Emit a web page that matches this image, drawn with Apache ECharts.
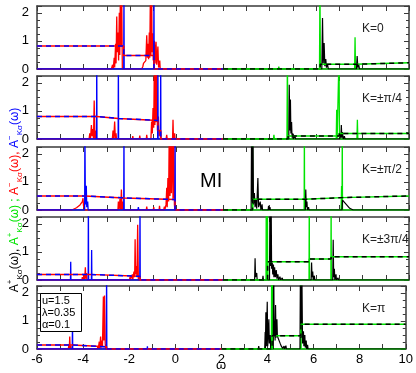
<!DOCTYPE html>
<html><head><meta charset="utf-8">
<script src="https://cdn.jsdelivr.net/npm/echarts@6/dist/echarts.min.js"></script>
<style>html,body{margin:0;padding:0;background:#fff}#c{width:416px;height:373px}</style>
</head><body><div id="c"></div>
<script>
// ---- axis ranges and tick labels ----
const xMin = -6, xMax = 10, yMin = 0, yMax = 2.24;
const xTickLabels = [-6, -4, -2, 0, 2, 4, 6, 8, 10];
const yTickLabels = [0, 1, 2];
const panelLabels = ['K=0', 'K=\u00b1\u03c0/4', 'K=\u00b1\u03c0/2', 'K=\u00b13\u03c0/4', 'K=\u03c0'];
const paramLines = ['u=1.5', '\u03bb=0.35', '\u03b1=0.1'];

// ---- panel 1: K=0 ----
const red1 = [[-6,0],[-2.8,0],[-2.75,0.15],[-2.72,0],[-2.68,0.4],[-2.66,0.05],[-2.62,0.9],[-2.6,0.2],[-2.57,1.87],[-2.55,0.6],[-2.52,1.3],[-2.49,0.3],[-2.46,2.0],[-2.44,0.5],[-2.41,3],[-2.39,0.8],[-2.36,3],[-2.33,0],[-2.1,0],[-2.08,0.06],[-2.06,0],[-1.8,0],[-1.78,0.05],[-1.76,0],[-1.5,0],[-1.45,0.08],[-1.42,0.2],[-1.32,0.3],[-1.28,1.2],[-1.25,0.4],[-1.22,0.9],[-1.2,0.35],[-1.17,1.3],[-1.15,0.4],[-1.12,3],[-1.1,0.5],[-1.07,3],[-1.05,0.6],[-1.02,1.27],[-1.0,0.3],[-0.95,1.0],[-0.92,0.2],[-0.88,0.97],[-0.85,0.15],[-0.8,0.8],[-0.77,0.05],[-0.72,0.3],[-0.7,0],[-0.5,0],[-0.48,0.04],[-0.46,0],[-0.2,0],[-0.18,0.05],[-0.16,0],[2,0]];
const blue1 = [[-6,0],[-2.27,0],[-2.26,3],[-2.25,0],[-0.98,0],[-0.97,3],[-0.96,0],[2,0]];
const stepRB1 = [[-6,0.82],[-2.27,0.82],[-2.27,0.48],[-0.97,0.48],[-0.97,0],[2,0]];
const black1 = [[2,0],[6.25,0],[6.28,1.81],[6.31,0.2],[6.35,0.92],[6.38,0.1],[6.42,0.35],[6.45,0.05],[6.5,0.15],[6.53,0],[6.6,0.06],[6.62,0],[7.74,0],[7.77,0.46],[7.8,0.05],[7.84,0.15],[7.87,0],[10,0]];
const green1 = [[2,0],[4.38,0],[4.4,0.08],[4.42,0],[6.15,0],[6.17,3],[6.19,0],[7.66,0],[7.68,1.13],[7.7,0],[10,0]];
const stepGK1 = [[2,0],[6.18,0],[6.18,0.17],[7.69,0.17],[7.69,0.22],[10,0.22]];

// ---- panel 2: K=±π/4 ----
const red2 = [[-6,0],[-3.76,0],[-3.73,0.2],[-3.7,0],[-3.66,0.5],[-3.63,0.1],[-3.6,0.35],[-3.57,0],[-3.54,1.37],[-3.51,0],[-3.47,0.3],[-3.45,0],[-2.76,0],[-2.73,0.3],[-2.7,0],[-2.66,0.62],[-2.63,0],[-2.6,0.2],[-2.58,0],[-2.4,0],[-2.38,0.06],[-2.36,0],[-1.9,0],[-1.88,0.1],[-1.86,0],[-1.6,0],[-1.58,0.12],[-1.56,0],[-1.3,0],[-1.28,0.15],[-1.26,0],[-1.1,0],[-1.07,0.62],[-1.04,0.2],[-1.01,1.1],[-0.98,0.4],[-0.95,3],[-0.93,0.5],[-0.9,3],[-0.88,0.6],[-0.85,3],[-0.82,0.3],[-0.78,0.8],[-0.75,0.1],[-0.7,0.3],[-0.67,0],[-0.45,0],[-0.42,0.15],[-0.4,0],[-0.17,0],[-0.15,0.68],[-0.13,0],[-0.08,0.2],[-0.06,0],[2,0]];
const blue2 = [[-6,0],[-3.44,0],[-3.43,3],[-3.42,0],[-2.51,0],[-2.5,3],[-2.49,0],[-0.81,0],[-0.8,3],[-0.79,0],[-0.69,0],[-0.68,3],[-0.67,0],[2,0]];
const stepRB2 = [[-6,0.8],[-3.43,0.8],[-3.43,0.73],[-2.5,0.73],[-2.5,0.66],[-0.8,0.66],[-0.8,0.3],[-0.68,0.3],[-0.68,0],[2,0]];
const black2 = [[2,0],[4.83,0],[4.85,1.93],[4.87,0.3],[4.9,1.4],[4.92,0.2],[4.95,0.6],[4.97,0.05],[5.0,0.2],[5.02,0],[5.1,0.1],[5.12,0],[7.02,0],[7.05,0.2],[7.07,0.05],[7.09,0.5],[7.11,0.05],[7.14,0.25],[7.17,0],[7.22,0.1],[7.25,0],[10,0]];
const green2 = [[2,0],[4.17,0],[4.19,0.15],[4.21,0],[4.75,0],[4.77,3],[4.79,0],[6.87,0],[6.89,1.04],[6.91,0],[6.97,0],[6.99,3],[7.01,0],[7.76,0],[7.78,0.68],[7.8,0],[10,0]];
const stepGK2 = [[2,0],[4.8,0],[4.8,0.11],[7.0,0.11],[7.0,0.2],[10,0.2]];

// ---- panel 3: K=±π/2 ----
const red3 = [[-6,0],[-4.5,0],[-4.3,0.08],[-4.15,0.18],[-4.05,0.3],[-4.02,0.42],[-4.0,0.15],[-3.95,0],[-2.52,0],[-2.5,0.3],[-2.47,0],[-2.43,0.4],[-2.4,0],[-2.37,0.73],[-2.34,0],[-2.31,0.3],[-2.29,0],[-1.3,0],[-1.28,0.12],[-1.26,0],[-1.0,0],[-0.98,0.1],[-0.96,0],[-0.75,0],[-0.73,0.15],[-0.71,0],[-0.55,0],[-0.52,0.12],[-0.5,0],[-0.45,0.2],[-0.42,0.79],[-0.4,0.1],[-0.37,1.14],[-0.34,0.3],[-0.31,3],[-0.28,0.5],[-0.25,3],[-0.22,0.6],[-0.18,3],[-0.15,0.4],[-0.12,3],[-0.09,0.2],[-0.07,0],[2,0]];
const blue3 = [[-6,0],[-3.95,0],[-3.94,3],[-3.92,0.2],[-3.88,0.86],[-3.86,0.1],[-3.82,0.3],[-3.8,0],[-2.27,0],[-2.26,3],[-2.25,0],[-1.66,0],[-1.64,0.1],[-1.62,0],[-0.07,0],[-0.06,3],[-0.05,0],[2,0]];
const stepRB3 = [[-6,0.5],[-3.93,0.5],[-3.93,0.43],[-2.26,0.43],[-2.26,0.37],[-0.06,0.37],[-0.06,0],[2,0]];
const black3 = [[2,0],[3.21,0],[3.23,3],[3.25,0.3],[3.29,3],[3.31,0.2],[3.35,0.6],[3.38,0.1],[3.42,0.4],[3.45,0.05],[3.5,1.14],[3.53,0.1],[3.6,0.3],[3.63,0],[3.68,0.2],[3.7,0],[3.94,0],[3.96,0.15],[3.98,0],[4.02,0.1],[4.04,0],[5.54,0],[5.56,0.73],[5.58,0.1],[5.61,0.3],[5.63,0],[5.68,0.1],[5.7,0],[7.12,0],[7.14,0.35],[7.3,0.2],[7.45,0.06],[7.6,0],[10,0]];
const green3 = [[2,0],[3.26,0],[3.27,3],[3.28,0],[4.83,0],[4.85,0.06],[4.87,0],[5.49,0],[5.5,3],[5.51,0],[7.08,0],[7.1,0.85],[7.12,0],[7.13,3],[7.14,0],[10,0]];
const stepGK3 = [[2,0],[3.27,0],[3.27,0.38],[5.5,0.38],[5.5,0.44],[7.13,0.44],[7.13,0.5],[10,0.5]];

// ---- panel 4: K=±3π/4 ----
const red4 = [[-6,0],[-4.07,0],[-4.05,0.1],[-4.03,0],[-3.97,0.2],[-3.95,0],[-3.92,0.45],[-3.9,0.05],[-3.87,0.25],[-3.85,0],[-2.02,0],[-2.0,0.1],[-1.98,0],[-1.9,0.2],[-1.88,0],[-1.83,0.3],[-1.8,0.1],[-1.78,1.45],[-1.76,0.2],[-1.72,0.5],[-1.7,0.1],[-1.67,1.96],[-1.64,0],[2,0]];
const blue4 = [[-6,0],[-4.56,0],[-4.55,0.65],[-4.54,0],[-3.8,0],[-3.79,3],[-3.78,0],[-3.66,0],[-3.65,1.07],[-3.64,0],[-1.58,0],[-1.57,3],[-1.56,0],[-1.01,0],[-1.0,0.07],[-0.99,0],[2,0]];
const stepRB4 = [[-6,0.2],[-3.79,0.2],[-3.79,0.13],[-1.57,0.13],[-1.57,0],[2,0]];
const black4 = [[2,0],[3.36,0],[3.38,0.77],[3.4,0.1],[3.45,0.25],[3.47,0],[3.7,0],[3.72,0.15],[3.74,0],[4.0,0],[4.02,3],[4.04,0.5],[4.07,3],[4.09,0.4],[4.12,0.6],[4.14,0.2],[4.17,0.55],[4.19,0.1],[4.22,0.45],[4.25,0.1],[4.29,0.35],[4.32,0.05],[4.36,0.2],[4.39,0],[4.45,0.12],[4.48,0],[4.55,0.08],[4.57,0],[5.79,0],[5.81,0.62],[5.83,0.1],[5.86,0.3],[5.88,0],[5.93,0.15],[5.95,0],[6.72,0],[6.74,1.43],[6.76,0.1],[6.79,0.4],[6.81,0],[6.86,0.2],[6.88,0],[6.95,0.08],[6.97,0],[10,0]];
const green4 = [[2,0],[3.85,0],[3.86,3],[3.88,0],[3.91,3],[3.92,0],[5.7,0],[5.71,3],[5.72,0],[6.64,0],[6.65,3],[6.66,0],[10,0]];
const stepGK4 = [[2,0],[3.92,0],[3.92,0.65],[5.71,0.65],[5.71,0.75],[6.65,0.75],[6.65,0.83],[10,0.83]];

// ---- panel 5: K=π ----
const red5 = [[-6,0],[-4.64,0],[-4.62,0.15],[-4.6,0],[-4.58,0.44],[-4.56,0],[-4.53,0.1],[-4.51,0],[-3.38,0],[-3.36,0.1],[-3.34,0],[-3.3,0.26],[-3.28,0],[-3.24,0.44],[-3.22,0.05],[-3.18,0.3],[-3.16,0.1],[-3.12,1.87],[-3.1,0.3],[-3.07,1.9],[-3.04,0.2],[-3.02,0],[2,0]];
const blue5 = [[-6,0],[-4.47,0],[-4.46,1.13],[-4.45,0],[-2.99,0],[-2.98,3],[-2.97,0],[-1.22,0],[-1.21,0.1],[-1.2,0],[2,0]];
const stepRB5 = [[-6,0.14],[-4.46,0.14],[-4.46,0.08],[-2.98,0.08],[-2.98,0],[2,0]];
const black5 = [[2,0],[3.6,0],[3.62,0.1],[3.64,0],[3.88,0],[3.9,0.6],[3.91,0],[3.93,1.31],[3.95,0.1],[3.99,1.68],[4.01,0.1],[4.06,1.06],[4.08,0.2],[4.12,0.5],[4.14,0],[4.25,0],[4.27,3],[4.29,0.5],[4.31,1.0],[4.33,0.3],[4.35,1.56],[4.37,0.4],[4.41,1.06],[4.43,0.45],[4.48,0.38],[4.55,0.2],[4.6,0.1],[4.64,0.15],[4.66,0.02],[4.72,0.1],[4.74,0],[4.8,0.12],[4.82,0],[4.9,0.06],[4.92,0],[5.41,0],[5.43,3],[5.46,0.4],[5.49,3],[5.52,0.2],[5.56,0.63],[5.58,0.1],[5.62,0.5],[5.64,0.05],[5.68,0.3],[5.7,0],[5.74,0.15],[5.76,0],[10,0]];
const green5 = [[2,0],[4.17,0],[4.18,3],[4.19,0],[4.21,0],[4.22,3],[4.23,0],[5.44,0],[5.45,3],[5.46,0],[10,0]];
const stepGK5 = [[2,0],[4.2,0],[4.2,0.47],[5.45,0.47],[5.45,0.88],[10,0.88]];

const panels = [
  {red: red1, blue: blue1, stepRB: stepRB1, black: black1, green: green1, stepGK: stepGK1},
  {red: red2, blue: blue2, stepRB: stepRB2, black: black2, green: green2, stepGK: stepGK2},
  {red: red3, blue: blue3, stepRB: stepRB3, black: black3, green: green3, stepGK: stepGK3},
  {red: red4, blue: blue4, stepRB: stepRB4, black: black4, green: green4, stepGK: stepGK4},
  {red: red5, blue: blue5, stepRB: stepRB5, black: black5, green: green5, stepGK: stepGK5}
];

// ---- layout ----
const gridTops = [6, 76, 147, 217, 286];
const gridH = 63, gridLeft = 37, gridW = 372;
const RED = '#ff0000', BLUE = '#0000ff', BLACK = '#000000', GREEN = '#00e400';
const AX = '#3a3a3a';
const FONT = 'Liberation Sans, Arial, sans-serif';

const grid = [], xAxis = [], yAxis = [], series = [];
gridTops.forEach((t, i) => {
  grid.push({left: gridLeft, top: t, width: gridW, height: gridH, containLabel: false});
  const last = i === gridTops.length - 1;
  const xBase = {
    type: 'value', gridIndex: i, min: xMin, max: xMax, interval: 1,
    axisLine: {show: true, onZero: false, lineStyle: {color: AX, width: 1.5}},
    axisTick: {show: true, inside: true, length: 5, lineStyle: {color: AX, width: 1}},
    splitLine: {show: false}
  };
  xAxis.push(Object.assign({}, xBase, {position: 'bottom',
    axisLabel: {show: last, color: '#000', fontSize: 13, fontFamily: FONT, margin: 4,
      formatter: v => xTickLabels.indexOf(v) >= 0 ? String(v) : ''}}));
  xAxis.push(Object.assign({}, xBase, {position: 'top', axisLabel: {show: false}}));
  const yBase = {
    type: 'value', gridIndex: i, min: yMin, max: yMax, interval: 1,
    axisLine: {show: true, onZero: false, lineStyle: {color: AX, width: 1.5}},
    axisTick: {show: true, inside: true, length: 5, lineStyle: {color: AX, width: 1}},
    minorTick: {show: true, splitNumber: 4, length: 3, lineStyle: {color: AX, width: 1}},
    splitLine: {show: false}, minorSplitLine: {show: false}
  };
  yAxis.push(Object.assign({}, yBase, {position: 'left',
    axisLabel: {show: true, color: '#000', fontSize: 13, fontFamily: FONT, margin: 8,
      formatter: v => yTickLabels.indexOf(v) >= 0 ? String(v) : ''}}));
  yAxis.push(Object.assign({}, yBase, {position: 'right', axisLabel: {show: false}}));

  const p = panels[i];
  const mk = (data, color, w, dash, z) => ({
    type: 'line', xAxisIndex: 2 * i, yAxisIndex: 2 * i, data: data,
    showSymbol: false, symbol: 'none', clip: true, animation: false, silent: true, z: z,
    lineStyle: {color: color, width: w, type: dash ? [5, 4] : 'solid'}
  });
  series.push(mk(p.green, GREEN, 1.3, false, 2));
  series.push(mk(p.black, BLACK, 1.2, false, 3));
  series.push(mk(p.stepGK, GREEN, 1.5, false, 4));
  series.push(mk(p.stepGK, BLACK, 1.5, true, 5));
  series.push(mk(p.red, RED, 1.3, false, 6));
  series.push(mk(p.blue, BLUE, 1.3, false, 7));
  series.push(mk(p.stepRB, RED, 1.5, false, 8));
  series.push(mk(p.stepRB, BLUE, 1.5, true, 9));
});

const graphic = [];
panelLabels.forEach((s, i) => {
  graphic.push({type: 'text', left: 362, top: gridTops[i] + 17, z: 20,
    style: {text: s, fontSize: 12, fontFamily: FONT, fill: '#222'}});
});
graphic.push({type: 'text', left: 200, top: 171, z: 20,
  style: {text: 'MI', fontSize: 20, fontFamily: FONT, fill: '#000'}});
graphic.push({type: 'rect', shape: {x: 40.5, y: 293.5, width: 41, height: 38}, z: 20,
  style: {fill: '#fff', stroke: '#000', lineWidth: 1}});
paramLines.forEach((s, i) => {
  graphic.push({type: 'text', left: 42, top: 295 + i * 12, z: 21,
    style: {text: s, fontSize: 11, fontFamily: FONT, fill: '#000'}});
});
graphic.push({type: 'text', left: 216, top: 359, z: 20,
  style: {text: '\u03c9', fontSize: 13, fontFamily: FONT, fill: '#000'}});

const yTitle = '{k|A}{ks|+}{kb|K\u03c3}{k|(\u03c9), }{g|A}{gs|+}{gb|K\u03c3}{g|(\u03c9) ; }{r|A}{rs|\u2212}{rb|K\u03c3}{r|(\u03c9), }{b|A}{bs|\u2212}{bb|K\u03c3}{b|(\u03c9)}';
const rich = {};
[['k', BLACK], ['g', GREEN], ['r', RED], ['b', BLUE]].forEach(([n, c]) => {
  rich[n] = {fill: c, color: c, fontSize: 12, fontFamily: FONT, lineHeight: 18, verticalAlign: 'middle'};
  rich[n + 's'] = {fill: c, color: c, fontSize: 8, fontFamily: FONT, lineHeight: 18, verticalAlign: 'top'};
  rich[n + 'b'] = {fill: c, color: c, fontSize: 8, fontFamily: FONT, lineHeight: 18, verticalAlign: 'bottom'};
});
graphic.push({type: 'text', x: 15, y: 200, rotation: Math.PI / 2, z: 20,
  style: {text: yTitle, rich: rich, align: 'center', verticalAlign: 'middle', fontSize: 12, fontFamily: FONT}});

const chart = echarts.init(document.getElementById('c'), null, {renderer: 'canvas'});
chart.setOption({animation: false, backgroundColor: '#fff', grid, xAxis, yAxis, series, graphic});
</script></body></html>
